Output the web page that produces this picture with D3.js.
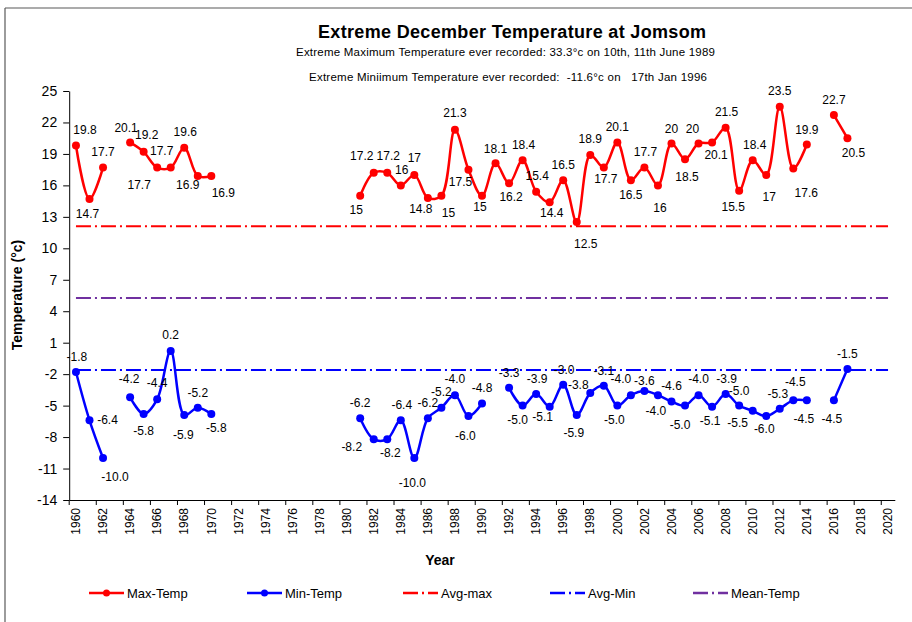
<!DOCTYPE html>
<html><head><meta charset="utf-8">
<script src="https://cdn.jsdelivr.net/npm/d3@7"></script>
<style>
html,body{margin:0;padding:0;background:#fff;}
svg{display:block;font-family:"Liberation Sans",Arial,sans-serif;}
</style></head><body>
<svg id="chart" width="912" height="622"></svg>
<script>
// ---------- data ----------
const years = d3.range(1960, 2021);
const maxTemp = [
  19.8, 14.7, 17.7, null, 20.1, 19.2, 17.7, 17.7, 19.6, 16.9, 16.9,
  null, null, null, null, null, null, null, null, null, null,
  15, 17.2, 17.2, 16, 17, 14.8, 15, 21.3, 17.5, 15,
  18.1, 16.2, 18.4, 15.4, 14.4, 16.5, 12.5, 18.9, 17.7, 20.1,
  16.5, 17.7, 16, 20, 18.5, 20, 20.1, 21.5, 15.5, 18.4,
  17, 23.5, 17.6, 19.9, null, 22.7, 20.5, null, null, null
];
const minTemp = [
  -1.8, -6.4, -10.0, null, -4.2, -5.8, -4.4, 0.2, -5.9, -5.2, -5.8,
  null, null, null, null, null, null, null, null, null, null,
  -6.2, -8.2, -8.2, -6.4, -10.0, -6.2, -5.2, -4.0, -6.0, -4.8,
  null, -3.3, -5.0, -3.9, -5.1, -3.0, -5.9, -3.8, -3.1, -5.0,
  -4.0, -3.6, -4.0, -4.6, -5.0, -4.0, -5.1, -3.9, -5.0, -5.5,
  -6.0, -5.3, -4.5, -4.5, null, -4.5, -1.5, null, null, null
];
const avgMaxValue = 12.1;
const avgMinValue = -1.6;
const meanTempValue = 5.25;
const yTickValues = [25, 22, 19, 16, 13, 10, 7, 4, 1, -2, -5, -8, -11, -14];
const xTickYears = years.filter(v => v % 2 === 0);
const seriesNames = ["Max-Temp", "Min-Temp", "Avg-max", "Avg-Min", "Mean-Temp"];
const titleText = "Extreme December Temperature at Jomsom";
const subtitle1 = "Extreme Maximum Temperature ever recorded: 33.3°c on 10th, 11th June 1989";
const subtitle2 = "Extreme Miniimum Temperature ever recorded:  -11.6°c on   17th Jan 1996";

// data-label placement (label centre offset from the point, px)
const maxLabelOffset = {
  1960:[9,-16],1961:[-2,15],1962:[0,-16],1964:[-4,-15],1965:[3,-17],1966:[-18,17],1967:[-9,-17],
  1968:[1,-16],1969:[-10,9],1970:[12,17],1981:[-4,14],1982:[-12,-17],1983:[1,-17],1984:[1,-16],
  1985:[0,-17],1986:[-7,11],1987:[7,17],1988:[0,-17],1989:[-8,12],1990:[-2,11],1991:[0,-15],
  1992:[2,14],1993:[1,-15],1994:[1,-16],1995:[2,11],1996:[0,-15],1997:[9,22],1998:[0,-16],
  1999:[2,11],2000:[0,-16],2001:[0,15],2002:[1,-16],2003:[2,22],2004:[0,-15],2005:[2,18],
  2006:[-6,-15],2007:[4,12],2008:[1,-16],2009:[-6,16],2010:[2,-15],2011:[3,22],2012:[0,-16],
  2013:[13,24],2014:[0,-15],2016:[0,-15],2017:[6,15]
};
const minLabelOffset = {
  1960:[1,-15],1961:[18,0],1962:[12,19],1964:[-1,-18],1965:[0,17],1966:[0,-17],1967:[0,-16],
  1968:[-1,20],1969:[0,-15],1970:[5,14],1981:[0,-15],1982:[-22,8],1983:[3,14],1984:[1,-15],
  1985:[-2,25],1986:[0,-15],1987:[0,-16],1988:[0,-16],1989:[-3,20],1990:[0,-16],1992:[0,-15],
  1993:[-5,14],1994:[1,-15],1995:[-7,10],1996:[1,-15],1997:[-3,18],1998:[-12,-8],1999:[0,-15],
  2000:[-3,14],2001:[-10,-16],2002:[0,-10],2003:[-2,16],2004:[0,-16],2005:[-5,19],2006:[0,-16],
  2007:[-2,14],2008:[1,-15],2009:[0,-15],2010:[-15,12],2011:[-2,13],2012:[-2,-15],2013:[2,-19],
  2014:[-3,18],2016:[-2,18],2017:[0,-15]
};

// ---------- styles ----------
const RED = "#FF0000", BLUE = "#0000FF", PURPLE = "#7030A0";
const DASHDOT = "15,4,2,4";

const svg = d3.select("#chart");

// frame
svg.append("line").attr("x1",5).attr("y1",8).attr("x2",912).attr("y2",8).attr("stroke","#595959").attr("stroke-width",1.2);
svg.append("line").attr("x1",5).attr("y1",8).attr("x2",5).attr("y2",622).attr("stroke","#595959").attr("stroke-width",1.2);

// scales
const x = d3.scaleBand().domain(years).range([69.2, 894.8]);
const bw = x.bandwidth();
const cx = yr => x(yr) + bw / 2;
const y = d3.scaleLinear().domain([-14, 25]).range([500, 91]);

// titles
svg.append("text").attr("x",512).attr("y",38).attr("text-anchor","middle")
  .attr("font-size",18).attr("font-weight","bold").attr("textLength",388).text(titleText);
svg.append("text").attr("x",505.5).attr("y",56).attr("text-anchor","middle")
  .attr("font-size",11.5).attr("textLength",419).text(subtitle1);
svg.append("text").attr("x",508).attr("y",81).attr("text-anchor","middle")
  .attr("font-size",11.5).attr("textLength",398).style("white-space","pre").text(subtitle2);

// axes
const yAxis = svg.append("g").attr("transform",`translate(${x.range()[0]},0)`)
  .call(d3.axisLeft(y).tickValues(yTickValues).tickFormat(d => String(d))
    .tickSize(6).tickPadding(6).tickSizeOuter(0));
yAxis.selectAll("text").attr("font-size",14).attr("fill","#000").style("font-family","inherit");
yAxis.selectAll("line,path").attr("stroke","#000");

const xAxis = svg.append("g").attr("transform",`translate(0,${y(-14)})`)
  .call(d3.axisBottom(x).tickValues(xTickYears).tickSize(5).tickSizeOuter(0));
xAxis.selectAll(".tick line").attr("x1",-bw/2).attr("x2",-bw/2).attr("stroke","#000");
xAxis.select(".domain").attr("stroke","#000");
xAxis.selectAll("text").attr("transform","rotate(-90)").attr("x",-8).attr("y",0)
  .attr("dy","0.35em").attr("text-anchor","end").attr("font-size",12).attr("fill","#000")
  .style("font-family","inherit");

// axis titles
svg.append("text").attr("transform","translate(22,295) rotate(-90)").attr("text-anchor","middle")
  .attr("font-size",14).attr("font-weight","bold").text("Temperature (°c)");
svg.append("text").attr("x",440).attr("y",565).attr("text-anchor","middle")
  .attr("font-size",14).attr("font-weight","bold").text("Year");

// reference lines
function drawRef(val, color) {
  const ln = d3.line().x(d => cx(d)).y(() => y(val));
  svg.append("path").datum([years[0], years[years.length-1]]).attr("d", ln)
    .attr("fill","none").attr("stroke",color).attr("stroke-width",2).attr("stroke-dasharray",DASHDOT);
}
drawRef(avgMaxValue, RED);
drawRef(avgMinValue, BLUE);
drawRef(meanTempValue, PURPLE);

// series
function drawSeries(vals, color, fmt, offsets) {
  const pts = years.map((yr, i) => ({yr, v: vals[i]}));
  const line = d3.line().defined(d => d.v != null).x(d => cx(d.yr)).y(d => y(d.v))
    .curve(d3.curveCatmullRom.alpha(0.5));
  svg.append("path").datum(pts).attr("d", line).attr("fill","none")
    .attr("stroke",color).attr("stroke-width",2.5);
  const valid = pts.filter(d => d.v != null);
  svg.append("g").selectAll("circle").data(valid).join("circle")
    .attr("cx", d => cx(d.yr)).attr("cy", d => y(d.v)).attr("r", 4).attr("fill", color);
  svg.append("g").selectAll("text").data(valid).join("text")
    .attr("x", d => cx(d.yr) + (offsets[d.yr] || [0,-15])[0])
    .attr("y", d => y(d.v) + (offsets[d.yr] || [0,-15])[1])
    .attr("dy","0.35em").attr("text-anchor","middle").attr("font-size",12).attr("fill","#000")
    .text(d => fmt(d.v));
}
drawSeries(maxTemp, RED, v => String(v), maxLabelOffset);
drawSeries(minTemp, BLUE, v => v.toFixed(1), minLabelOffset);

// legend
const legendItems = [
  {name: seriesNames[0], color: RED, x: 89, marker: true, dash: null},
  {name: seriesNames[1], color: BLUE, x: 247, marker: true, dash: null},
  {name: seriesNames[2], color: RED, x: 403, marker: false, dash: DASHDOT},
  {name: seriesNames[3], color: BLUE, x: 550, marker: false, dash: DASHDOT},
  {name: seriesNames[4], color: PURPLE, x: 693, marker: false, dash: DASHDOT}
];
const lg = svg.append("g").attr("transform","translate(0,593)");
legendItems.forEach(it => {
  lg.append("line").attr("x1",it.x).attr("x2",it.x+35).attr("y1",0).attr("y2",0)
    .attr("stroke",it.color).attr("stroke-width",2.5).attr("stroke-dasharray",it.dash);
  if (it.marker) lg.append("circle").attr("cx",it.x+17.5).attr("cy",0).attr("r",3.5).attr("fill",it.color);
  lg.append("text").attr("x",it.x+38).attr("y",0).attr("dy","0.35em").attr("font-size",13)
    .attr("fill","#000").text(it.name);
});
</script>
</body></html>
